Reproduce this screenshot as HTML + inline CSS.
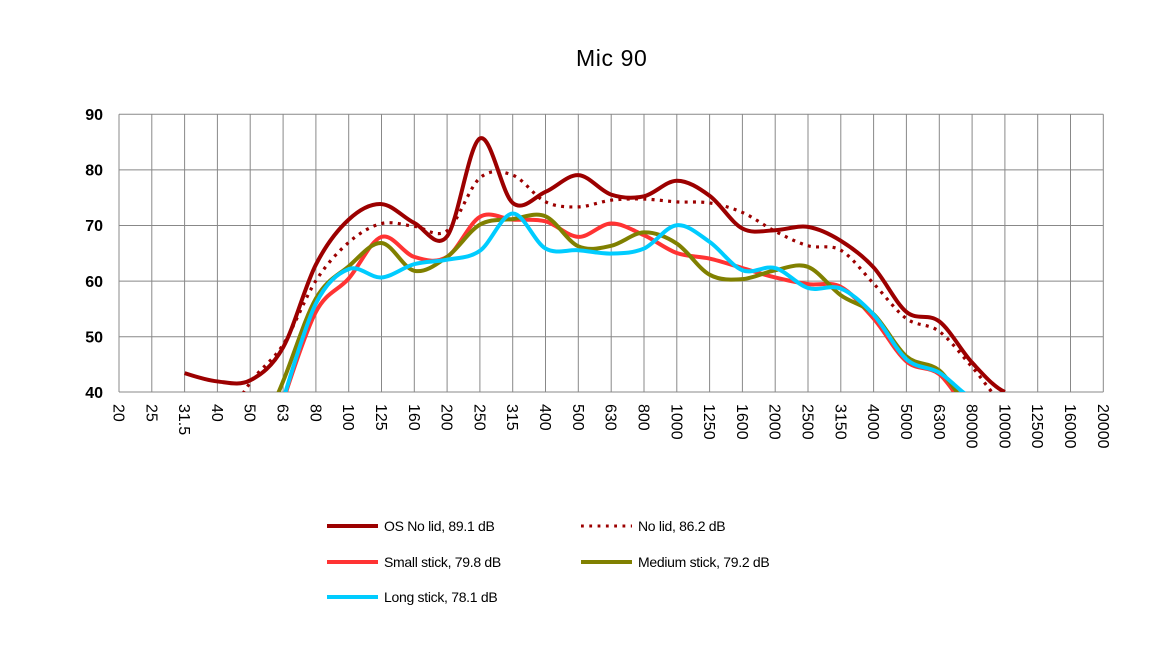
<!DOCTYPE html>
<html>
<head>
<meta charset="utf-8">
<style>
  html, body { margin:0; padding:0; background:#fff; }
  svg { display:block; }
  text { font-family: "Liberation Sans", sans-serif; fill:#000; }
</style>
</head>
<body>
<svg width="1171" height="659" viewBox="0 0 1171 659" xmlns="http://www.w3.org/2000/svg">
  <rect x="0" y="0" width="1171" height="659" fill="#fff"/>
  <text x="611.7" y="66" font-size="23" text-anchor="middle" letter-spacing="0.6">Mic 90</text>

  <!-- grid -->
  <g stroke="#888" stroke-width="1" fill="none">
    <line x1="119" y1="114.3" x2="1103.3" y2="114.3"/>
    <line x1="119" y1="169.9" x2="1103.3" y2="169.9"/>
    <line x1="119" y1="225.5" x2="1103.3" y2="225.5"/>
    <line x1="119" y1="281.1" x2="1103.3" y2="281.1"/>
    <line x1="119" y1="336.7" x2="1103.3" y2="336.7"/>
    <line x1="119" y1="392" x2="1103.3" y2="392"/>
    <line x1="119" y1="114.3" x2="119" y2="392"/>
    <line x1="151.8" y1="114.3" x2="151.8" y2="392"/>
    <line x1="184.6" y1="114.3" x2="184.6" y2="392"/>
    <line x1="217.4" y1="114.3" x2="217.4" y2="392"/>
    <line x1="250.2" y1="114.3" x2="250.2" y2="392"/>
    <line x1="283.1" y1="114.3" x2="283.1" y2="392"/>
    <line x1="315.9" y1="114.3" x2="315.9" y2="392"/>
    <line x1="348.7" y1="114.3" x2="348.7" y2="392"/>
    <line x1="381.5" y1="114.3" x2="381.5" y2="392"/>
    <line x1="414.3" y1="114.3" x2="414.3" y2="392"/>
    <line x1="447.1" y1="114.3" x2="447.1" y2="392"/>
    <line x1="479.9" y1="114.3" x2="479.9" y2="392"/>
    <line x1="512.7" y1="114.3" x2="512.7" y2="392"/>
    <line x1="545.5" y1="114.3" x2="545.5" y2="392"/>
    <line x1="578.3" y1="114.3" x2="578.3" y2="392"/>
    <line x1="611.2" y1="114.3" x2="611.2" y2="392"/>
    <line x1="644" y1="114.3" x2="644" y2="392"/>
    <line x1="676.8" y1="114.3" x2="676.8" y2="392"/>
    <line x1="709.6" y1="114.3" x2="709.6" y2="392"/>
    <line x1="742.4" y1="114.3" x2="742.4" y2="392"/>
    <line x1="775.2" y1="114.3" x2="775.2" y2="392"/>
    <line x1="808" y1="114.3" x2="808" y2="392"/>
    <line x1="840.8" y1="114.3" x2="840.8" y2="392"/>
    <line x1="873.6" y1="114.3" x2="873.6" y2="392"/>
    <line x1="906.4" y1="114.3" x2="906.4" y2="392"/>
    <line x1="939.3" y1="114.3" x2="939.3" y2="392"/>
    <line x1="972.1" y1="114.3" x2="972.1" y2="392"/>
    <line x1="1004.9" y1="114.3" x2="1004.9" y2="392"/>
    <line x1="1037.7" y1="114.3" x2="1037.7" y2="392"/>
    <line x1="1070.5" y1="114.3" x2="1070.5" y2="392"/>
    <line x1="1103.3" y1="114.3" x2="1103.3" y2="392"/>
  </g>

  <!-- y labels -->
  <g font-size="16" font-weight="bold" text-anchor="end">
    <text x="103" y="120">90</text>
    <text x="103" y="175.6">80</text>
    <text x="103" y="231.2">70</text>
    <text x="103" y="286.8">60</text>
    <text x="103" y="342.4">50</text>
    <text x="103" y="398">40</text>
  </g>

  <!-- x labels -->
  <g font-size="16">
    <text transform="translate(113.5,404) rotate(90)">20</text>
    <text transform="translate(146.3,404) rotate(90)">25</text>
    <text transform="translate(179.1,404) rotate(90)">31.5</text>
    <text transform="translate(211.9,404) rotate(90)">40</text>
    <text transform="translate(244.7,404) rotate(90)">50</text>
    <text transform="translate(277.6,404) rotate(90)">63</text>
    <text transform="translate(310.4,404) rotate(90)">80</text>
    <text transform="translate(343.2,404) rotate(90)">100</text>
    <text transform="translate(376,404) rotate(90)">125</text>
    <text transform="translate(408.8,404) rotate(90)">160</text>
    <text transform="translate(441.6,404) rotate(90)">200</text>
    <text transform="translate(474.4,404) rotate(90)">250</text>
    <text transform="translate(507.2,404) rotate(90)">315</text>
    <text transform="translate(540,404) rotate(90)">400</text>
    <text transform="translate(572.8,404) rotate(90)">500</text>
    <text transform="translate(605.7,404) rotate(90)">630</text>
    <text transform="translate(638.5,404) rotate(90)">800</text>
    <text transform="translate(671.3,404) rotate(90)">1000</text>
    <text transform="translate(704.1,404) rotate(90)">1250</text>
    <text transform="translate(736.9,404) rotate(90)">1600</text>
    <text transform="translate(769.7,404) rotate(90)">2000</text>
    <text transform="translate(802.5,404) rotate(90)">2500</text>
    <text transform="translate(835.3,404) rotate(90)">3150</text>
    <text transform="translate(868.1,404) rotate(90)">4000</text>
    <text transform="translate(900.9,404) rotate(90)">5000</text>
    <text transform="translate(933.8,404) rotate(90)">6300</text>
    <text transform="translate(966.6,404) rotate(90)">80000</text>
    <text transform="translate(999.4,404) rotate(90)">10000</text>
    <text transform="translate(1032.2,404) rotate(90)">12500</text>
    <text transform="translate(1065,404) rotate(90)">16000</text>
    <text transform="translate(1097.8,404) rotate(90)">20000</text>
  </g>

  <defs>
    <clipPath id="plot">
      <rect x="119" y="110" width="984.3" height="282"/>
    </clipPath>
  </defs>

  <g clip-path="url(#plot)">
    <g transform="matrix(32.81 0 0 -5.56 119 614.4)" fill="none" stroke-linejoin="round">
      <!-- OS No lid -->
      <path vector-effect="non-scaling-stroke" stroke="#9c0000" stroke-width="4"
        d="M2 43.4 S2.667 42.12 3 41.9 S3.667 41.08 4 42.1 S4.667 44.53 5 48 S5.667 59.07 6 62.9 S6.667 69.18 7 71 S7.667 73.9 8 73.8 S8.667 71.37 9 70.4 S9.667 65.47 10 68 S10.667 84.6 11 85.6 S11.667 75.6 12 74 S12.667 75.17 13 76 S13.667 79.08 14 79 S14.667 76.13 15 75.5 S15.667 74.78 16 75.2 S16.667 77.98 17 78 S17.667 76.73 18 75.3 S18.667 70.43 19 69.4 S19.667 69.05 20 69.1 S20.667 70.02 21 69.7 S21.667 68.42 22 67.2 S22.667 64.53 23 62.4 S23.667 56.02 24 54.4 S24.667 54.22 25 52.7 S25.667 47.42 26 45.3 S26.667 40.88 27 40"/>
      <!-- No lid dotted -->
      <path vector-effect="non-scaling-stroke" stroke="#9c0000" stroke-width="3.2" stroke-dasharray="3 5.3"
        d="M3 32 S3.667 38.95 4 41.7 S4.667 45.45 5 48.5 S5.667 56.93 6 60 S6.667 65.18 7 66.9 S7.667 69.82 8 70.3 S8.667 70.02 9 69.8 S9.667 67.55 10 69 S10.667 76.83 11 78.5 S11.667 79.72 12 79 S12.667 75.15 13 74.2 S13.667 73.25 14 73.3 S14.667 74.27 15 74.5 S15.667 74.75 16 74.7 S16.667 74.32 17 74.2 S17.667 74.32 18 74 S18.667 73.15 19 72.3 S19.667 69.9 20 68.9 S20.667 66.87 21 66.3 S21.667 66.63 22 65.5 S22.667 61.55 23 59.5 S23.667 54.63 24 53.2 S24.667 52.35 25 50.9 S25.667 46.68 26 44.5 S26.667 38.92 27 37.8"/>
      <!-- Small stick -->
      <path vector-effect="non-scaling-stroke" stroke="#ff3333" stroke-width="4"
        d="M5 38.3 S5.667 50.72 6 54.4 S6.667 58.15 7 60.4 S7.667 67.25 8 67.9 S8.667 64.9 9 64.3 S9.667 63.1 10 64.3 S10.667 70.38 11 71.5 S11.667 71.13 12 71 S12.667 71.22 13 70.7 S13.667 67.97 14 67.9 S14.667 70.25 15 70.3 S15.667 69.08 16 68.2 S16.667 65.7 17 65 S17.667 64.45 18 64 S18.667 62.87 19 62.3 S19.667 61.08 20 60.6 S20.667 59.68 21 59.4 S21.667 59.93 22 58.9 S22.667 55.43 23 53.2 S23.667 47.17 24 45.5 S24.667 44.73 25 43.2 S25.667 37.45 26 36.3"/>
      <!-- Medium stick -->
      <path vector-effect="non-scaling-stroke" stroke="#808000" stroke-width="4"
        d="M4 28 S4.667 37.1 5 41.9 S5.667 53.35 6 56.8 S6.667 60.93 7 62.6 S7.667 66.93 8 66.8 S8.667 62.22 9 61.8 S9.667 62.92 10 64.3 S10.667 68.97 11 70.1 S11.667 70.85 12 71.1 S12.667 72.42 13 71.6 S13.667 67.08 14 66.2 S14.667 65.88 15 66.3 S15.667 68.63 16 68.7 S16.667 67.97 17 66.7 S17.667 62.17 18 61.1 S18.667 60.17 19 60.3 S19.667 61.53 20 61.9 S20.667 63.25 21 62.5 S21.667 58.82 22 57.4 S22.667 55.83 23 54 S23.667 48.08 24 46.4 S24.667 45.47 25 43.9 S25.667 38.15 26 37"/>
      <!-- Long stick -->
      <path vector-effect="non-scaling-stroke" stroke="#00ccff" stroke-width="4"
        d="M5 38.5 S5.667 51.97 6 55.9 S6.667 61.32 7 62.1 S7.667 60.45 8 60.6 S8.667 62.47 9 63 S9.667 63.4 10 63.8 S10.667 64.02 11 65.4 S11.667 72.03 12 72.1 S12.667 66.9 13 65.8 S13.667 65.65 14 65.5 S14.667 64.85 15 64.9 S15.667 64.95 16 65.8 S16.667 69.8 17 70 S17.667 68.35 18 67 S18.667 62.68 19 61.9 S19.667 62.83 20 62.3 S20.667 59.32 21 58.7 S21.667 59.4 22 58.6 S22.667 56.02 23 53.9 S23.667 47.63 24 45.9 S24.667 44.65 25 43.5 S25.667 39.75 26 39"/>
    </g>
  </g>

  <!-- legend -->
  <g font-size="14" letter-spacing="-0.3">
    <line x1="327" y1="526" x2="378" y2="526" stroke="#9c0000" stroke-width="4"/>
    <text x="384" y="531">OS No lid, 89.1 dB</text>
    <line x1="581" y1="526" x2="632" y2="526" stroke="#9c0000" stroke-width="3" stroke-dasharray="2.8 5.5"/>
    <text x="638" y="531">No lid, 86.2 dB</text>

    <line x1="327" y1="562" x2="378" y2="562" stroke="#ff3333" stroke-width="4"/>
    <text x="384" y="567">Small stick, 79.8 dB</text>
    <line x1="581" y1="562" x2="632" y2="562" stroke="#808000" stroke-width="4"/>
    <text x="638" y="567">Medium stick, 79.2 dB</text>

    <line x1="327" y1="597" x2="378" y2="597" stroke="#00ccff" stroke-width="4"/>
    <text x="384" y="602">Long stick, 78.1 dB</text>
  </g>
</svg>
</body>
</html>
